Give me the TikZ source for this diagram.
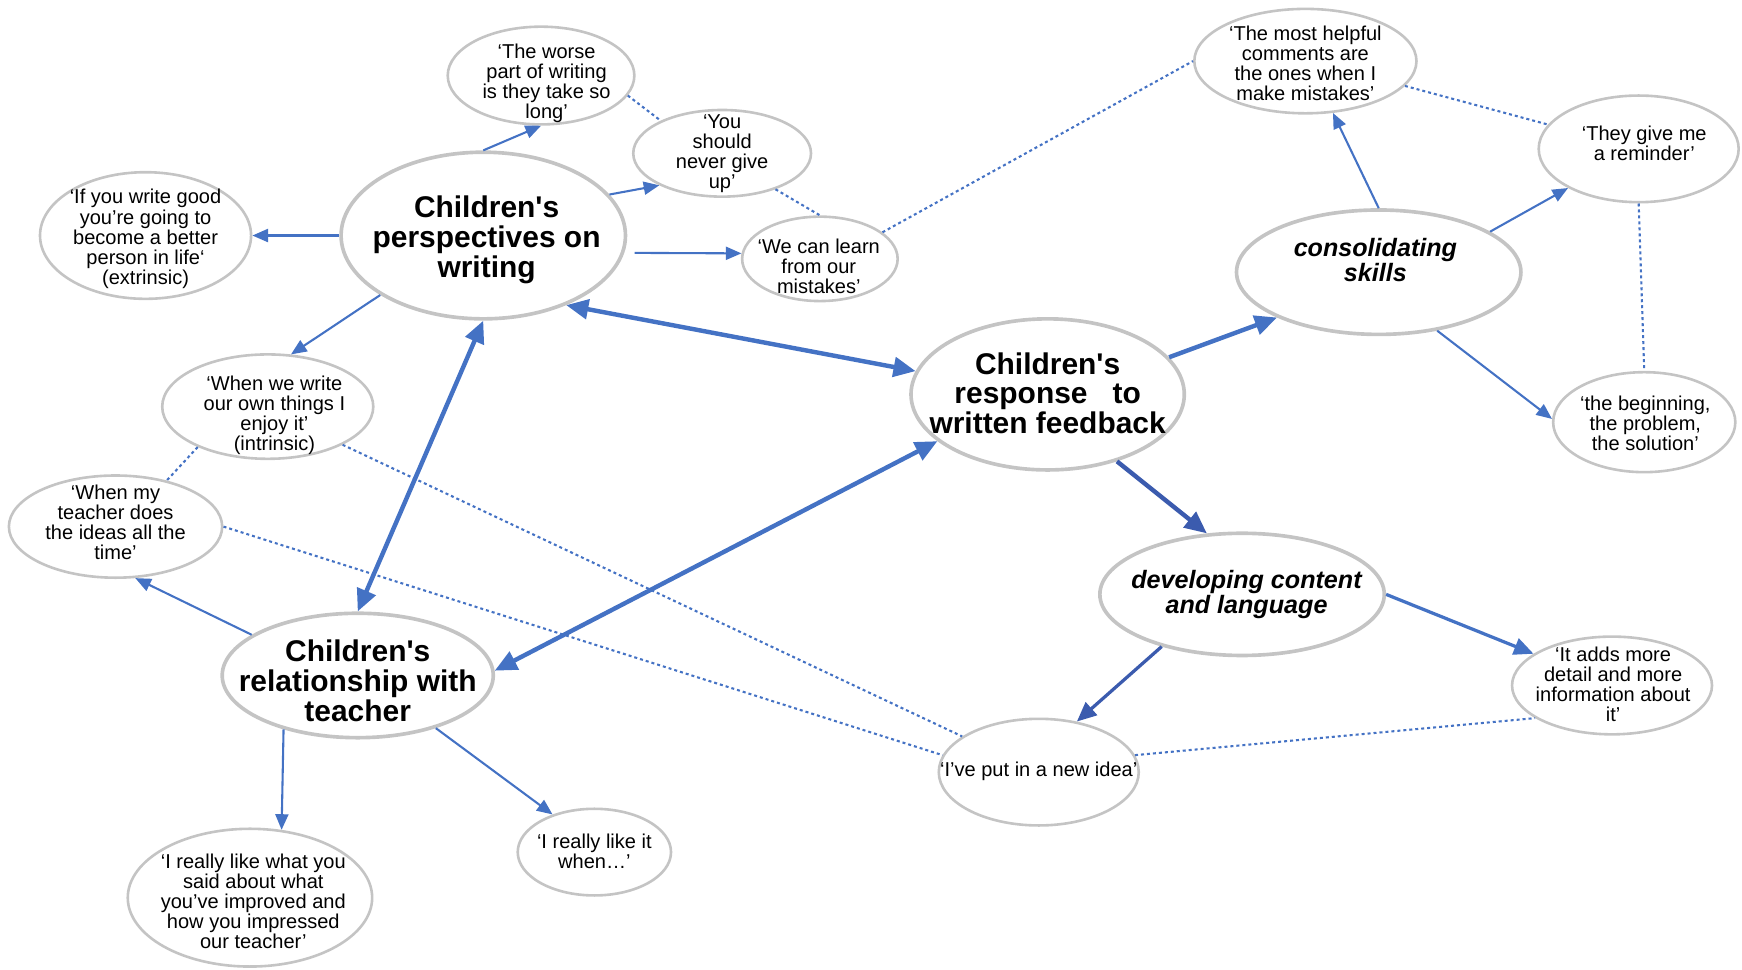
\documentclass[tikz,border=0pt]{standalone}
\usepackage{fontspec}
\setmainfont{Liberation Sans}
\usetikzlibrary{arrows.meta,shapes.geometric}
\definecolor{lnblue}{HTML}{4472C4}
\definecolor{dkblue}{HTML}{3B5BAE}
\definecolor{ringgray}{HTML}{C4C4C4}
\begin{document}
\begin{tikzpicture}[x=0.03cm,y=-0.03cm,
 bub/.style 2 args={ellipse, draw=ringgray, line width=2pt, minimum width=#1*0.06cm, minimum height=#2*0.06cm, inner sep=0pt, fill=white},
 bigring/.style={line width=2.8pt},
 smtxt/.style={align=center, inner sep=0pt, font=\fontsize{15.4}{15.4}\selectfont},
 bgtxt/.style={align=center, inner sep=0pt, font=\fontsize{23}{23}\selectfont\bfseries},
 ittxt/.style={align=center, inner sep=0pt, font=\fontsize{19.3}{19.6}\selectfont\bfseries\itshape},
 ar/.style={lnblue, line width=1.6pt, -{Triangle[length=12pt,width=10pt]}},
 med/.style={lnblue, line width=2.5pt, -{Triangle[length=15pt,width=13pt]}},
 thk/.style={lnblue, line width=3.4pt, -{Triangle[length=17pt,width=15pt]}},
 dbl/.style={lnblue, line width=3.4pt, {Triangle[length=17pt,width=15pt]}-{Triangle[length=17pt,width=15pt]}},
 dotln/.style={lnblue, line width=1.6pt, dash pattern=on 2.3pt off 2.3pt},
]
\useasboundingbox (0,0) rectangle (1568,873);

% big nodes
\node[bub={128}{75}, bigring] (persp) at (435,212) {};
\node[bgtxt] (persp-t) at (438,216) {Children\textquotesingle s\\perspectives on\\writing};
\node[bub={123}{68}, bigring] (resp) at (943,355) {};
\node[bgtxt] (resp-t) at (943,354) {Children\textquotesingle s\\response~~~to\\written feedback};
\node[bub={122}{56}, bigring] (rel) at (322,608) {};
\node[bgtxt] (rel-t) at (322,613) {Children\textquotesingle s\\relationship with\\teacher};
\node[bub={128}{56}, bigring] (cons) at (1241,245) {};
\node[ittxt] (cons-t) at (1238,234) {consolidating\\skills};
\node[bub={128}{55}, bigring] (dev) at (1118,535) {};
\node[ittxt] (dev-t) at (1122,535) {developing content\\and language};

% small nodes
\node[bub={84}{44}] (worse) at (487,68) {};
\node[smtxt] (worse-t) at (492,75) {‘The worse\\part of writing\\is they take so\\long’};
\node[bub={80}{39}] (giveup) at (650,138) {};
\node[smtxt] (giveup-t) at (650,138) {‘You\\should\\never give\\up’};
\node[bub={70}{38}] (learn) at (738,233) {};
\node[smtxt] (learn-t) at (737,240) {‘We can learn\\from our\\mistakes’};
\node[bub={95}{57}] (extr) at (131,212) {};
\node[smtxt] (extr-t) at (131,215) {‘If you write good\\you’re going to\\become a better\\person in life‘\\(extrinsic)};
\node[bub={95}{47}] (intr) at (241,366) {};
\node[smtxt] (intr-t) at (247,374) {‘When we write\\our own things I\\enjoy it’\\(intrinsic)};
\node[bub={96}{46}] (myt) at (104,474) {};
\node[smtxt] (myt-t) at (104,470) {‘When my\\teacher does\\the ideas all the\\time’};
\node[bub={110}{62}] (impr) at (225,808) {};
\node[smtxt] (impr-t) at (228,811) {‘I really like what you\\said about what\\you’ve improved and\\how you impressed\\our teacher’};
\node[bub={69}{39}] (likeit) at (535,767) {};
\node[smtxt] (likeit-t) at (535,766) {‘I really like it\\when…’};
\node[bub={90}{48}] (newidea) at (935,695) {};
\node[smtxt] (newidea-t) at (935,694) {‘I’ve put in a new idea’};
\node[bub={90}{44}] (adds) at (1451,617) {};
\node[smtxt] (adds-t) at (1452,616) {‘It adds more\\detail and more\\information about\\it’};
\node[bub={100}{47}] (most) at (1175,55) {};
\node[smtxt] (most-t) at (1175,57) {‘The most helpful\\comments are\\the ones when I\\make mistakes’};
\node[bub={90}{48}] (remind) at (1475,134) {};
\node[smtxt] (remind-t) at (1480,129) {‘They give me\\a reminder’};
\node[bub={82}{45}] (begin) at (1480,380) {};
\node[smtxt] (begin-t) at (1481,381) {‘the beginning,\\the problem,\\the solution’};

% arrows
\draw[ar] (persp.north) -- (worse.south);
\draw[ar] (persp.18) -- (giveup.207);
\draw[ar] (persp.west) -- (extr.east);
\draw[ar, shorten <=8pt] (persp.-7) -- (learn.176);
\draw[ar] (persp.210) -- (intr.66);
\draw[dbl] (persp.-40) -- (resp.170);
\draw[dbl] (persp.south) -- (rel.north);
\draw[dbl] (resp.203) -- (rel.2);
\draw[thk] (resp.17) -- (cons.204);
\draw[thk, dkblue] (resp.-44) -- (dev.120);
\draw[ar] (cons.north) -- (most.-62);
\draw[ar] (cons.20) -- (remind.209);
\draw[ar] (cons.-45) -- (begin.178);
\draw[med] (dev.east) -- (adds.158);
\draw[med, dkblue] (dev.213) -- (newidea.53);
\draw[ar] (rel.159) -- (myt.-69);
\draw[ar] (rel.216) -- (impr.65);
\draw[ar] (rel.-34) -- (likeit.138);

% dotted links
\draw[dotln] (worse.-13) -- (giveup.152);
\draw[dotln] (giveup.-34) -- (learn.north);
\draw[dotln] (learn.23) -- (most.west);
\draw[dotln] (most.-14) -- (remind.165);
\draw[dotln] (remind.south) -- (begin.north);
\draw[dotln] (intr.210) -- (myt.42);
\draw[dotln] (intr.-27) -- (newidea.155);
\draw[dotln] (myt.east) -- (newidea.170);
\draw[dotln] (newidea.10) -- (adds.203);
\end{tikzpicture}
\end{document}
